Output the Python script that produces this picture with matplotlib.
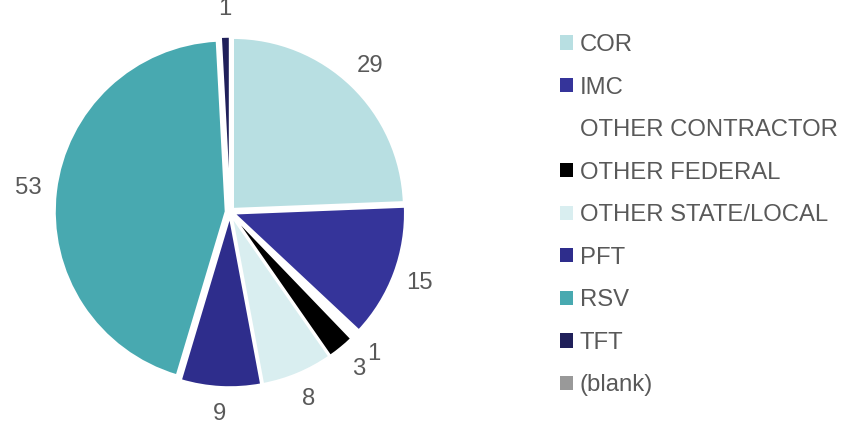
import matplotlib
matplotlib.use('Agg')
import matplotlib.pyplot as plt
from matplotlib.patches import Patch

categories = ['COR', 'IMC', 'OTHER CONTRACTOR', 'OTHER FEDERAL',
              'OTHER STATE/LOCAL', 'PFT', 'RSV', 'TFT', '(blank)']
values = [29, 15, 1, 3, 8, 9, 53, 1, 0]
colors = ['#B8DFE2', '#35349A', '#FFFFFF', '#000000',
          '#D9EEF0', '#2E2D8C', '#48A9B0', '#20205A', '#999999']

plt.rcParams['font.family'] = ['Liberation Sans', 'DejaVu Sans']
text_color = '#595959'
fs = 17.2

fig = plt.figure(figsize=(8.42, 4.24), dpi=100)
r = 171
ax = fig.add_axes([(230 - r) / 842, (212 - r) / 424, 2 * r / 842, 2 * r / 424])

labels = [str(v) if v > 0 else '' for v in values]
wedges, texts = ax.pie(values, labels=labels, colors=colors,
                       startangle=90, counterclock=False,
                       explode=[0.025] * len(values),
                       labeldistance=1.16,
                       wedgeprops={'edgecolor': 'white', 'linewidth': 1.5},
                       textprops={'fontsize': fs, 'color': text_color})
for t in texts:
    t.set_horizontalalignment('center')
    t.set_verticalalignment('center')
ax.set_xlim(-1.0, 1.0)
ax.set_ylim(-1.0, 1.0)
ax.set_aspect('equal')

handles = [Patch(facecolor=c, edgecolor='none') for c in colors]
leg = fig.legend(handles, categories, loc='upper left',
                 bbox_to_anchor=(560 / 842, 1 - 34 / 424),
                 frameon=False, fontsize=fs,
                 handlelength=0.55, handleheight=0.55, handletextpad=0.28,
                 labelspacing=0.86, borderaxespad=0, borderpad=0)
for t in leg.get_texts():
    t.set_color(text_color)

fig.savefig('out.png', dpi=100)
